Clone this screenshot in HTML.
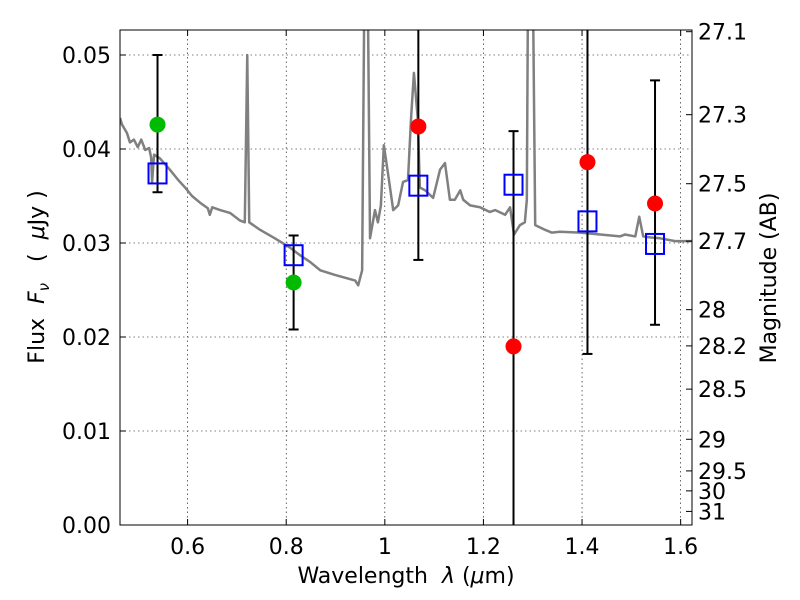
<!DOCTYPE html>
<html><head><meta charset="utf-8"><style>
html,body{margin:0;padding:0;background:#fff}
svg{display:block;font-family:"DejaVu Sans","Liberation Sans",sans-serif}
.pre{white-space:pre}
</style></head><body>
<svg id="chart" width="800" height="600" viewBox="0 0 800 600" xmlns="http://www.w3.org/2000/svg">
<g id="grid"></g>
<g id="plot"></g>
<rect x="120" y="30" width="572" height="495" fill="none" stroke="#000" stroke-width="1"/>
<g id="axes"></g>
<text class="pre" x="406" y="583" font-size="22" text-anchor="middle">Wavelength  <tspan font-style="italic">λ</tspan> (<tspan font-style="italic">μ</tspan>m)</text>
<text class="pre" transform="translate(44,277) rotate(-90)" font-size="22" text-anchor="middle">Flux  <tspan font-style="italic">F</tspan><tspan font-style="italic" font-size="15" dy="5">ν</tspan><tspan dy="-5">   (  </tspan><tspan font-style="italic">μ</tspan>Jy )</text>
<text transform="translate(776,278) rotate(-90)" font-size="22" text-anchor="middle">Magnitude (AB)</text>
</svg>
<script>
const xTicks=[0.6,0.8,1.0,1.2,1.4,1.6];
const xTickLabels=["0.6","0.8","1","1.2","1.4","1.6"];
const yTicks=[0,0.01,0.02,0.03,0.04,0.05];
const yTickLabels=["0.00","0.01","0.02","0.03","0.04","0.05"];
const magTicks=[27.1,27.3,27.5,27.7,28,28.2,28.5,29,29.5,30,31];
const magTickLabels=["27.1","27.3","27.5","27.7","28","28.2","28.5","29","29.5","30","31"];
const specLam=[.463,.467,.477,.483,.491,.499,.506,.514,.522,.526,.528,.532,.544,.554,.564,.581,.595,.609,.625,.641,.645,.650,.666,.686,.706,.716,.721,.725,.747,.777,.808,.828,.848,.869,.899,.940,.946,.954,.958,.966,.970,.980,.986,.992,.998,1.007,1.017,1.027,1.037,1.047,1.053,1.059,1.067,1.071,1.082,1.098,1.112,1.122,1.132,1.142,1.153,1.159,1.173,1.193,1.213,1.224,1.244,1.254,1.262,1.274,1.284,1.288,1.290,1.301,1.305,1.325,1.339,1.355,1.396,1.437,1.477,1.487,1.508,1.516,1.524,1.538,1.558,1.589,1.623];
const specFlux=[.0433,.0426,.0417,.0407,.0410,.0402,.0410,.0399,.0401,.0391,.0365,.0394,.0390,.0384,.0378,.0367,.0359,.0350,.0343,.0337,.0330,.0338,.0335,.0332,.0324,.0322,.0500,.0322,.0314,.0305,.0295,.0287,.0280,.0271,.0266,.0260,.0255,.0271,.0537,.0537,.0305,.0335,.0322,.0340,.0404,.0372,.0335,.0340,.0365,.0367,.0431,.0481,.0431,.0359,.0356,.0348,.0378,.0385,.0346,.0346,.0356,.0346,.0340,.0338,.0333,.0335,.0330,.0338,.0309,.0319,.0322,.0346,.0537,.0537,.0319,.0314,.0311,.0312,.0311,.0309,.0307,.0309,.0307,.0328,.0307,.0306,.0305,.0302,.0302];
const greenLam=[0.539,0.815];
const greenFlux=[0.0426,0.0258];
const redLam=[1.068,1.261,1.411,1.548];
const redFlux=[0.0424,0.019,0.0386,0.0342];
const modelLam=[0.539,0.815,1.068,1.261,1.411,1.548];
const modelFlux=[0.0374,0.0287,0.0361,0.0362,0.0323,0.0299];
const errLam=[0.539,0.815,1.068,1.261,1.411,1.548];
const errLow=[0.0354,0.0208,0.0282,-0.01,0.0182,0.0213];
const errHigh=[0.050,0.0308,0.06,0.0419,0.06,0.0473];

const X0=120,X1=692,Y0=525,Y1=30,xmin=0.4629,xmax=1.623,ymin=0,ymax=0.05266;
const sx=v=>X0+(v-xmin)/(xmax-xmin)*(X1-X0);
const sy=v=>Y0-(v-ymin)/(ymax-ymin)*(Y0-Y1);
const magToFlux=m=>Math.pow(10,(23.9-m)/2.5);
const NS="http://www.w3.org/2000/svg";
function mk(tag,attrs,parent){const e=document.createElementNS(NS,tag);for(const k in attrs)e.setAttribute(k,attrs[k]);parent.appendChild(e);return e;}
const grid=document.getElementById('grid'),plot=document.getElementById('plot'),axes=document.getElementById('axes');
const clamp=v=>Math.max(Y1,Math.min(Y0,v));

xTicks.forEach((t,i)=>{const x=sx(t);
 let g=mk('line',{x1:x,x2:x,y1:Y1,y2:Y0,stroke:'#000','stroke-width':0.6,'stroke-dasharray':'1.5,3'},grid);
 
 let a=mk('line',{x1:x,x2:x,y1:Y0,y2:Y0-6,stroke:'#000'},axes);
 let b=mk('line',{x1:x,x2:x,y1:Y1,y2:Y1+6,stroke:'#000'},axes);
 let l=mk('text',{x:x,y:554,'font-size':22,'text-anchor':'middle'},axes);l.textContent=xTickLabels[i];
 });
yTicks.forEach((t,i)=>{const y=sy(t);
 if(i>0){let g=mk('line',{x1:X0,x2:X1,y1:y,y2:y,stroke:'#000','stroke-width':0.6,'stroke-dasharray':'1.5,3'},grid);
 }
 let a=mk('line',{x1:X0,x2:X0+6,y1:y,y2:y,stroke:'#000'},axes);
 let l=mk('text',{x:111,y:y+8,'font-size':22,'text-anchor':'end'},axes);l.textContent=yTickLabels[i];
 });
magTicks.forEach((m,i)=>{const y=sy(magToFlux(m));
 let a=mk('line',{x1:X1,x2:X1-6,y1:y,y2:y,stroke:'#000'},axes);
 let l=mk('text',{x:698,y:y+8,'font-size':22,'text-anchor':'start'},axes);l.textContent=magTickLabels[i];
 });

const cp=mk('clipPath',{id:'clip'},plot);mk('rect',{x:X0,y:Y1,width:X1-X0,height:Y0-Y1},cp);
const pg=mk('g',{'clip-path':'url(#clip)'},plot);
const sp=mk('polyline',{points:specLam.map((l,i)=>sx(l)+','+sy(specFlux[i])).join(' '),fill:'none',stroke:'#808080','stroke-width':2.5,'stroke-linejoin':'round'},pg);

errLam.forEach((l,i)=>{const x=sx(l),yl=sy(errLow[i]),yh=sy(errHigh[i]);
 let e=mk('line',{x1:x,x2:x,y1:clamp(yl),y2:clamp(yh),stroke:'#000','stroke-width':2},pg);
 
 [yl,yh].forEach(y=>{if(y>Y1&&y<Y0){let c=mk('line',{x1:x-5,x2:x+5,y1:y,y2:y,stroke:'#000','stroke-width':2},pg);
  }});});
modelLam.forEach((l,i)=>{let r=mk('rect',{x:sx(l)-9,y:sy(modelFlux[i])-10,width:18,height:20,fill:'none',stroke:'#0000ff','stroke-width':2},pg);
 });
greenLam.forEach((l,i)=>{let c=mk('circle',{cx:sx(l),cy:sy(greenFlux[i]),r:8,fill:'#00bb00'},pg);
 });
redLam.forEach((l,i)=>{let c=mk('circle',{cx:sx(l),cy:sy(redFlux[i]),r:8,fill:'#ff0000'},pg);
 });
</script>
</body></html>
